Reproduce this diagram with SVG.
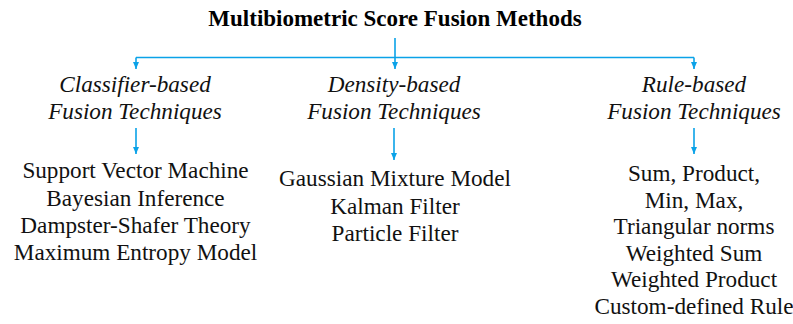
<svg xmlns="http://www.w3.org/2000/svg" width="793" height="324" viewBox="0 0 793 324">
  <style>
    .title { font-family: "Liberation Serif", "Times New Roman", serif; font-size: 23px; font-weight: bold; fill: #000; text-anchor: middle; }
    .cat { font-family: "Liberation Serif", "Times New Roman", serif; font-size: 23.2px; font-style: italic; fill: #111; text-anchor: middle; }
    .item { font-family: "Liberation Serif", "Times New Roman", serif; font-size: 23.2px; fill: #111; text-anchor: middle; }
    .link { fill: none; stroke: #0aa2e8; stroke-width: 1.6; }
  </style>
  <defs>
    <marker id="arrow" markerUnits="userSpaceOnUse" markerWidth="8" markerHeight="8" viewBox="0 0 8 8" refX="7" refY="4" orient="auto">
      <path d="M0,1 L7,4 L0,7 Z" fill="#0aa2e8"/>
    </marker>
  </defs>

  <g id="root">
    <text class="title" x="395" y="26">Multibiometric Score Fusion Methods</text>
  </g>

  <g id="classifier">
    <text class="cat" x="135" y="92">Classifier-based</text>
    <text class="cat" x="135" y="119">Fusion Techniques</text>
    <text class="item" x="135.5" y="178">Support Vector Machine</text>
    <text class="item" x="135.5" y="205.5">Bayesian Inference</text>
    <text class="item" x="135.5" y="233">Dampster-Shafer Theory</text>
    <text class="item" x="135.5" y="260">Maximum Entropy Model</text>
  </g>

  <g id="density">
    <text class="cat" x="394" y="92">Density-based</text>
    <text class="cat" x="394" y="119">Fusion Techniques</text>
    <text class="item" x="395" y="186">Gaussian Mixture Model</text>
    <text class="item" x="395" y="213.5">Kalman Filter</text>
    <text class="item" x="395" y="241">Particle Filter</text>
  </g>

  <g id="rule">
    <text class="cat" x="694" y="92">Rule-based</text>
    <text class="cat" x="694" y="119">Fusion Techniques</text>
    <text class="item" x="694" y="181">Sum, Product,</text>
    <text class="item" x="694" y="207.5">Min, Max,</text>
    <text class="item" x="694" y="234">Triangular norms</text>
    <text class="item" x="694" y="260.5">Weighted Sum</text>
    <text class="item" x="694" y="287">Weighted Product</text>
    <text class="item" x="694" y="313.5">Custom-defined Rule</text>
  </g>

  <g id="connectors">
    <path class="link" d="M136,57.5 H694"/>
    <path class="link" d="M395,38 V69" marker-end="url(#arrow)"/>
    <path class="link" d="M136,57.5 V69" marker-end="url(#arrow)"/>
    <path class="link" d="M694,57.5 V69" marker-end="url(#arrow)"/>
    <path class="link" d="M136,128 V154" marker-end="url(#arrow)"/>
    <path class="link" d="M394,128 V160" marker-end="url(#arrow)"/>
    <path class="link" d="M694,128 V154" marker-end="url(#arrow)"/>
  </g>
</svg>
